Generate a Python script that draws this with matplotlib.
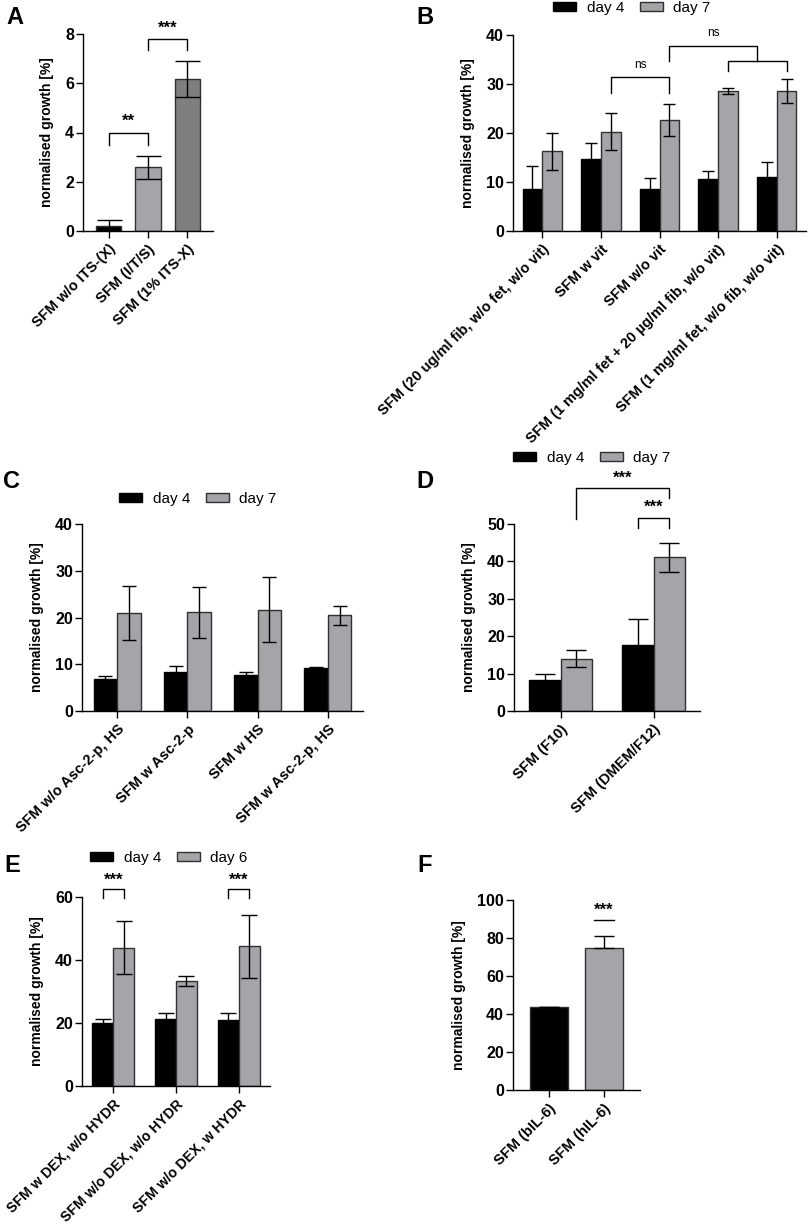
import matplotlib
matplotlib.use("Agg")
import matplotlib.pyplot as plt
from matplotlib.patches import Patch
import numpy as np

plt.rcParams['font.family'] = ['Liberation Sans', 'DejaVu Sans']

# data
A_labels = ["SFM w/o ITS-(X)", "SFM (I/T/S)", "SFM (1% ITS-X)"]
A_vals = [0.2, 2.58, 6.18]
A_err = [0.25, 0.46, 0.73]

B_labels = ["SFM (20 ug/ml fib, w/o fet, w/o vit)", "SFM w vit", "SFM w/o vit",
            "SFM (1 mg/ml fet + 20 µg/ml fib, w/o vit)", "SFM (1 mg/ml fet, w/o fib, w/o vit)"]
B_day4 = [8.6, 14.6, 8.6, 10.6, 11.0]
B_day4_err = [4.6, 3.3, 2.2, 1.6, 3.0]
B_day7 = [16.3, 20.3, 22.6, 28.6, 28.6]
B_day7_err = [3.8, 3.8, 3.3, 0.6, 2.4]

C_labels = ["SFM w/o Asc-2-p, HS", "SFM w Asc-2-p", "SFM w HS", "SFM w Asc-2-p, HS"]
C_day4 = [6.9, 8.3, 7.6, 9.1]
C_day4_err = [0.6, 1.3, 0.8, 0.4]
C_day7 = [20.9, 21.1, 21.7, 20.5]
C_day7_err = [5.8, 5.4, 6.9, 2.0]

D_labels = ["SFM (F10)", "SFM (DMEM/F12)"]
D_day4 = [8.3, 17.6]
D_day4_err = [1.5, 7.0]
D_day7 = [14.0, 41.1]
D_day7_err = [2.2, 3.9]

E_labels = ["SFM w DEX, w/o HYDR", "SFM w/o DEX, w/o HYDR", "SFM w/o DEX, w HYDR"]
E_day4 = [19.9, 21.3, 21.1]
E_day4_err = [1.3, 2.0, 2.0]
E_day6 = [43.9, 33.4, 44.3]
E_day6_err = [8.5, 1.6, 10.1]

F_labels = ["SFM (bIL-6)", "SFM (hIL-6)"]
F_vals = [43.5, 74.5]
F_err = [0.3, 6.3]

GRAY = '#a4a4a9'
DARK = '#7f7f7f'
EDGE = '#303030'

W, H = 809, 1224
fig = plt.figure(figsize=(W / 100, H / 100), dpi=100)


def pax(l, r, t, b):
    return fig.add_axes([l / W, 1 - b / H, (r - l) / W, (b - t) / H])


def style(ax, labels, ymax, step, xpad, xfs=10.5):
    n = len(labels)
    ax.set_xlim(-xpad, n - 1 + xpad)
    ax.set_ylim(0, ymax)
    ax.set_yticks(np.arange(0, ymax + 0.1, step))
    ax.set_xticks(range(n))
    ax.set_xticklabels(labels, rotation=45, ha='right', rotation_mode='anchor',
                       fontsize=xfs, fontweight='bold')
    for t in ax.get_yticklabels():
        t.set_fontweight('bold')
        t.set_fontsize(11.5)
    ax.spines['top'].set_visible(False)
    ax.spines['right'].set_visible(False)
    ax.spines['left'].set_linewidth(1)
    ax.spines['bottom'].set_linewidth(1)
    ax.tick_params(axis='y', length=5, width=1, pad=1.5)
    ax.tick_params(axis='x', length=5, width=1, pad=3)
    ax.set_ylabel('normalised growth [%]', fontsize=10, fontweight='bold', labelpad=8)


def grouped(ax, v1, e1, v2, e2, cap, c2=GRAY):
    x = np.arange(len(v1))
    w = 0.335
    ax.bar(x - w / 2, v1, w, color='black', edgecolor='black', linewidth=1, zorder=2)
    ax.bar(x + w / 2, v2, w, color=c2, edgecolor=EDGE, linewidth=1, zorder=2)
    ax.errorbar(x - w / 2, v1, yerr=e1, fmt='none', ecolor='black', elinewidth=1,
                capsize=cap, capthick=1, zorder=3)
    ax.errorbar(x + w / 2, v2, yerr=e2, fmt='none', ecolor='black', elinewidth=1,
                capsize=cap, capthick=1, zorder=3)


def bracket(ax, x1, x2, y, l1, l2, txt=None, ty=None, fs=12, bold=True):
    ax.plot([x1, x1, x2, x2], [l1, y, y, l2], color='black', lw=1, clip_on=False)
    if txt:
        ax.text((x1 + x2) / 2, ty, txt, ha='center', va='center', fontsize=fs,
                fontweight='bold' if bold else 'normal', clip_on=False)


def legend(ax, cx, cy, lab2):
    h = [Patch(facecolor='black', edgecolor='black'), Patch(facecolor=GRAY, edgecolor=EDGE)]
    ax.legend(h, ['day 4', lab2], loc='center', bbox_to_anchor=(cx / W, 1 - cy / H),
              bbox_transform=fig.transFigure, ncol=2, frameon=False, fontsize=11,
              handlelength=1.5, handleheight=0.6, columnspacing=1.0, handletextpad=0.7,
              borderaxespad=0, borderpad=0)


# A
ax = pax(83, 213, 34, 231)
xa = np.arange(3)
ax.bar(xa, A_vals, 0.65, color=['black', GRAY, DARK], edgecolor=EDGE, linewidth=1, zorder=2)
ax.errorbar(xa, A_vals, yerr=A_err, fmt='none', ecolor='black', elinewidth=1,
            capsize=9, capthick=1, zorder=3)
style(ax, A_labels, 8, 2, 0.65)
bracket(ax, 0, 1, 4.0, 3.5, 3.5, '**', 4.45)
bracket(ax, 1, 2, 7.78, 7.37, 7.37, '***', 8.25)

# B
ax = pax(513, 806, 35, 231)
grouped(ax, B_day4, B_day4_err, B_day7, B_day7_err, 4)
style(ax, B_labels, 40, 10, 0.5)
o = 0.1675
bracket(ax, 1 + o, 2 + o, 31.4, 28.2, 28.2, 'ns', 33.9, fs=8.5, bold=False)
bracket(ax, 3 + o, 4 + o, 34.6, 32.6, 32.6)
bracket(ax, 2 + o, 3.5 + o, 37.8, 34.6, 34.6, 'ns', 40.4, fs=8.5, bold=False)
legend(ax, 632, 8, 'day 7')

# C
ax = pax(82, 363, 524, 711)
grouped(ax, C_day4, C_day4_err, C_day7, C_day7_err, 5)
style(ax, C_labels, 40, 10, 0.5)
legend(ax, 198, 499, 'day 7')

# D
ax = pax(514, 700, 524, 711)
grouped(ax, D_day4, D_day4_err, D_day7, D_day7_err, 7.5)
style(ax, D_labels, 50, 10, 0.5)
bracket(ax, o, 1 + o, 59.6, 51.4, 57.0, '***', 62.3)
bracket(ax, 1 - o, 1 + o, 51.6, 48.9, 48.9, '***', 54.5)
legend(ax, 592, 458, 'day 7')

# E
ax = pax(82, 270, 897, 1086)
grouped(ax, E_day4, E_day4_err, E_day6, E_day6_err, 6)
style(ax, E_labels, 60, 20, 0.5, xfs=10.2)
bracket(ax, -o, o, 62.6, 59.6, 59.6, '***', 65.2)
bracket(ax, 2 - o, 2 + o, 62.6, 59.6, 59.6, '***', 65.2)
legend(ax, 169, 858, 'day 6')

# F
ax = pax(513, 640, 900, 1090)
xf = np.arange(2)
ax.bar(xf, F_vals, 0.68, color=['black', GRAY], edgecolor=EDGE, linewidth=1, zorder=2)
ax.errorbar(xf, F_vals, yerr=[[0, 0], F_err], fmt='none', ecolor='black', elinewidth=1,
            capsize=7.5, capthick=1, zorder=3)
style(ax, F_labels, 100, 20, 0.65)
ax.plot([0.82, 1.18], [89.5, 89.5], color='black', lw=1, clip_on=False)
ax.text(1, 94.6, '***', ha='center', va='center', fontsize=12, fontweight='bold')

# panel letters
for lab, x, y in [('A', 15, 18), ('B', 425, 18), ('C', 12, 482), ('D', 425, 482),
                  ('E', 12, 865), ('F', 425, 865)]:
    fig.text(x / W, 1 - y / H, lab, fontsize=17, fontweight='bold', ha='center', va='center')

fig.savefig('out.png', dpi=100)
